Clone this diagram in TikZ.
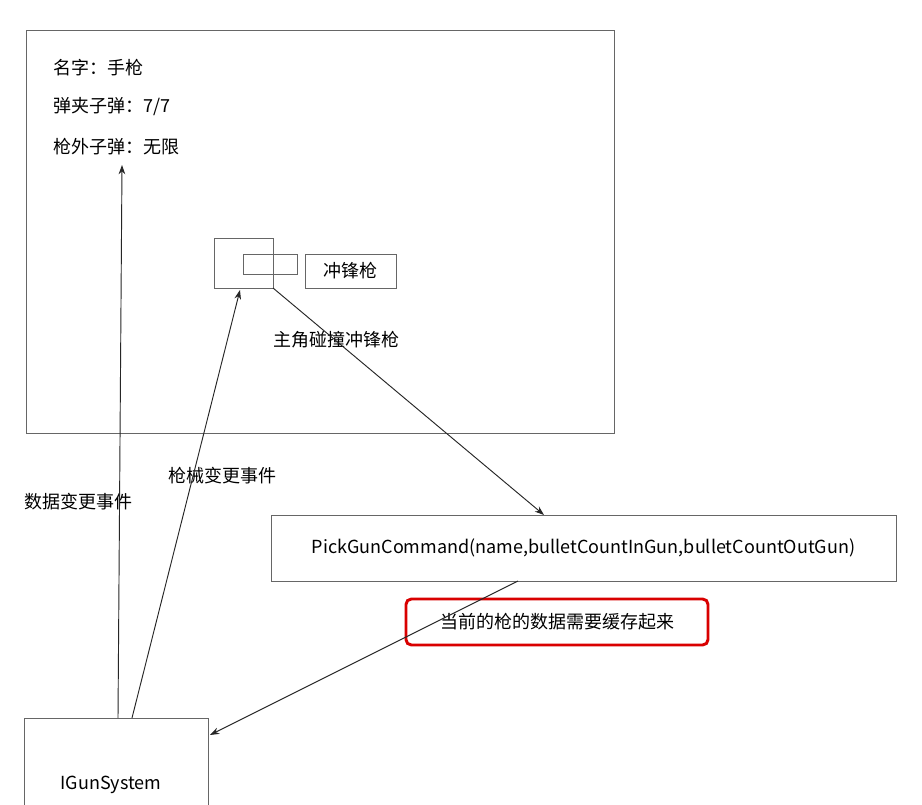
\documentclass[tikz,border=0pt]{standalone}
\usepackage{fontspec}
\setmainfont{Noto Sans CJK SC}
\usetikzlibrary{arrows.meta}
\begin{document}
\begin{tikzpicture}[x=0.75pt,y=-0.75pt,
  box/.style={draw=black!60,line width=0.6pt},
  lbl/.style={font=\fontsize{13.5}{15}\selectfont,inner sep=0pt},
  arr/.style={draw=black!85,line width=0.7pt,-{Stealth[length=7pt,width=5pt]}}]
\useasboundingbox[fill=white] (0,0) rectangle (922,805);
\draw[box] (26,30) rectangle (614,433);
\node[lbl,anchor=west] (t1) at (53,68) {名字：手枪};
\node[lbl,anchor=west] (t2) at (53,107) {弹夹子弹：7/7};
\node[lbl,anchor=west] (t3) at (53,147) {枪外子弹：无限};
\coordinate (t3b) at (122,165);
\draw[box] (214,238) rectangle (273,288);
\draw[box] (243,254) rectangle (297,274);
\node[box,minimum width=91*0.75pt,minimum height=34*0.75pt,lbl] (smg) at (350.5,271) {冲锋枪};
\coordinate (gA) at (273,288);
\coordinate (gB) at (240,290);
\node[lbl] (hit) at (336,340) {主角碰撞冲锋枪};
\node[box,minimum width=625*0.75pt,minimum height=66*0.75pt,lbl] (pick) at (583.5,548) {PickGunCommand(name,bulletCountInGun,bulletCountOutGun)};
\coordinate (pickT) at (544,515);
\coordinate (pickB) at (518,581);
\draw[draw=red!85!black,line width=2.2pt,rounded corners=4pt] (406,599) rectangle (708,645);
\node[lbl] (cache) at (557,622) {当前的枪的数据需要缓存起来};
\draw[box] (24,805) -- (24,718) -- (208,718) -- (208,805);
\node[lbl] (igs) at (111,785) {IGunSystem};
\coordinate (igsR) at (210,735);
\coordinate (igsT1) at (118,718);
\coordinate (igsT2) at (132,718);
\node[lbl] (d1) at (78,502) {数据变更事件};
\node[lbl] (d2) at (222,476) {枪械变更事件};
\draw[arr] (gA) -- (pickT);
\draw[arr] (pickB) -- (igsR);
\draw[arr] (igsT1) -- (t3b);
\draw[arr] (igsT2) -- (gB);
\end{tikzpicture}
\end{document}
